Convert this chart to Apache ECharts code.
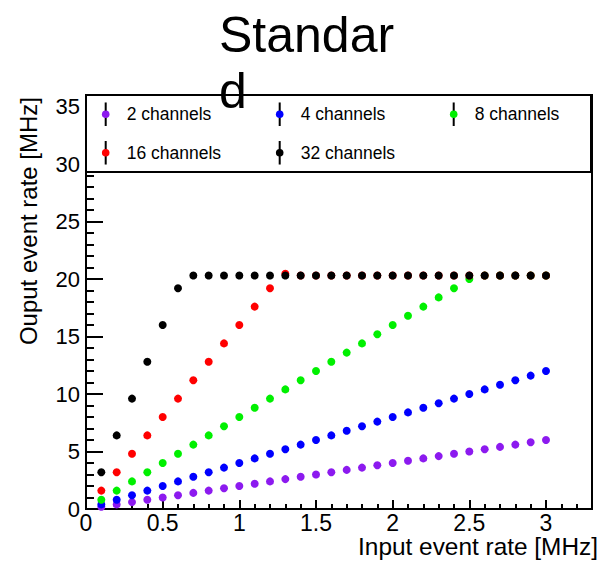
<!DOCTYPE html>
<html>
<head>
<meta charset="utf-8">
<title>Standard</title>
<script src="https://cdn.jsdelivr.net/npm/echarts@6/dist/echarts.min.js"></script>
<style>
  html, body { margin: 0; padding: 0; background: #fff; }
  #chart { width: 601px; height: 562px; }
</style>
</head>
<body>
<div id="chart"></div>
<script>
// Input event rate [MHz]
const rates = [0.1, 0.2, 0.3, 0.4, 0.5, 0.6, 0.7, 0.8, 0.9, 1.0,
               1.1, 1.2, 1.3, 1.4, 1.5, 1.6, 1.7, 1.8, 1.9, 2.0,
               2.1, 2.2, 2.3, 2.4, 2.5, 2.6, 2.7, 2.8, 2.9, 3.0];

// Output event rate [MHz] per channel count
const ch2  = [0.2, 0.4, 0.6, 0.8, 1.0, 1.2, 1.4, 1.6, 1.8, 2.0,
              2.2, 2.4, 2.6, 2.8, 3.0, 3.2, 3.4, 3.6, 3.8, 4.0,
              4.2, 4.4, 4.6, 4.8, 5.0, 5.2, 5.4, 5.6, 5.8, 6.0];
const ch4  = [0.4, 0.8, 1.2, 1.6, 2.0, 2.4, 2.8, 3.2, 3.6, 4.0,
              4.4, 4.8, 5.2, 5.6, 6.0, 6.4, 6.8, 7.2, 7.6, 8.0,
              8.4, 8.8, 9.2, 9.6, 10.0, 10.4, 10.8, 11.2, 11.6, 12.0];
const ch8  = [0.8, 1.6, 2.4, 3.2, 4.0, 4.8, 5.6, 6.4, 7.2, 8.0,
              8.8, 9.6, 10.4, 11.2, 12.0, 12.8, 13.6, 14.4, 15.2, 16.0,
              16.8, 17.6, 18.4, 19.2, 20.0, 20.3, 20.3, 20.3, 20.3, 20.3];
const ch16 = [1.6, 3.2, 4.8, 6.4, 8.0, 9.6, 11.2, 12.8, 14.4, 16.0,
              17.6, 19.2, 20.45, 20.3, 20.3, 20.3, 20.3, 20.3, 20.3, 20.3,
              20.3, 20.3, 20.3, 20.3, 20.3, 20.3, 20.3, 20.3, 20.3, 20.3];
const ch32 = [3.2, 6.4, 9.6, 12.8, 16.0, 19.2, 20.3, 20.3, 20.3, 20.3,
              20.3, 20.3, 20.3, 20.3, 20.3, 20.3, 20.3, 20.3, 20.3, 20.3,
              20.3, 20.3, 20.3, 20.3, 20.3, 20.3, 20.3, 20.3, 20.3, 20.3];

const seriesNames = ['2 channels', '4 channels', '8 channels', '16 channels', '32 channels'];
const seriesValues = [ch2, ch4, ch8, ch16, ch32];
const seriesColors = ['#8c1aef', '#0000ff', '#00f000', '#ff0000', '#000000'];

const FONT = 'Liberation Sans, Arial, Helvetica, sans-serif';

// Legend marker: coloured dot on a black vertical error bar
function markerIcon(color) {
  const svg = '<svg xmlns="http://www.w3.org/2000/svg" width="8" height="24" viewBox="0 0 8 24">' +
    '<rect x="3" y="0" width="2" height="24" fill="#000"/>' +
    '<circle cx="4" cy="12" r="3.8" fill="' + color + '"/></svg>';
  return 'image://data:image/svg+xml;charset=utf-8,' + encodeURIComponent(svg);
}

const chart = echarts.init(document.getElementById('chart'), null, { renderer: 'svg' });

const axisLineStyle = { color: '#000', width: 2 };

const option = {
  animation: false,
  backgroundColor: '#fff',
  textStyle: { fontFamily: FONT },
  title: {
    text: 'Standard',
    left: 219,
    top: 7,
    padding: 0,
    z: 30,
    textStyle: {
      fontFamily: FONT,
      fontSize: 50,
      fontWeight: 'normal',
      color: '#000',
      width: 185,
      overflow: 'breakAll',
      lineHeight: 56
    }
  },
  grid: {
    left: 86, right: 9, top: 95, bottom: 53,
    show: true,
    borderColor: '#000',
    borderWidth: 2,
    backgroundColor: 'transparent'
  },
  legend: {
    data: seriesNames.map((n, i) => ({ name: n, icon: markerIcon(seriesColors[i]) })),
    left: 89.7,
    top: 102.3,
    width: 520,
    padding: 0,
    itemWidth: 32,
    itemHeight: 24,
    itemGap: 14.4,
    selectedMode: false,
    z: 20,
    textStyle: {
      fontFamily: FONT,
      fontSize: 17.5,
      color: '#000',
      width: 122.6,
      lineHeight: 24
    }
  },
  xAxis: [
    {
      type: 'value',
      position: 'bottom',
      min: 0, max: 3.3, interval: 0.5,
      axisLine: { show: true, onZero: false, lineStyle: axisLineStyle },
      axisTick: { show: true, inside: true, length: 9, lineStyle: axisLineStyle },
      axisLabel: {
        show: true, margin: 2, showMaxLabel: false,
        fontFamily: FONT, fontSize: 23, color: '#000'
      },
      splitLine: { show: false }
    },
    {
      type: 'value',
      position: 'bottom',
      offset: 0,
      min: 0, max: 3.3, interval: 0.1,
      axisLine: { show: false },
      axisTick: { show: true, inside: true, length: 5, lineStyle: axisLineStyle },
      axisLabel: { show: false },
      splitLine: { show: false }
    }
  ],
  yAxis: [
    {
      type: 'value',
      position: 'left',
      min: 0, max: 36, interval: 5,
      axisLine: { show: true, onZero: false, lineStyle: axisLineStyle },
      axisTick: { show: true, inside: true, length: 17, lineStyle: axisLineStyle },
      axisLabel: {
        show: true, margin: 6, showMaxLabel: false,
        fontFamily: FONT, fontSize: 22, color: '#000'
      },
      splitLine: { show: false }
    },
    {
      type: 'value',
      position: 'left',
      offset: 0,
      min: 0, max: 36, interval: 1,
      axisLine: { show: false },
      axisTick: { show: true, inside: true, length: 8, lineStyle: axisLineStyle },
      axisLabel: { show: false },
      splitLine: { show: false }
    }
  ],
  graphic: [
    {
      // legend frame across the top of the plot
      type: 'rect',
      z: 10,
      shape: { x: 86, y: 95, width: 505, height: 77 },
      style: { fill: '#fff', stroke: '#000', lineWidth: 2 }
    },
    {
      type: 'text',
      z: 10,
      x: 598, y: 546.5,
      style: {
        text: 'Input event rate [MHz]',
        font: '24.4px ' + FONT,
        fill: '#000',
        align: 'right',
        verticalAlign: 'middle'
      }
    },
    {
      type: 'text',
      z: 10,
      x: 28, y: 97,
      rotation: Math.PI / 2,
      style: {
        text: 'Ouput event rate [MHz]',
        font: '24px ' + FONT,
        fill: '#000',
        align: 'right',
        verticalAlign: 'middle'
      }
    }
  ],
  series: seriesNames.map((name, i) => ({
    name: name,
    type: 'scatter',
    xAxisIndex: 0,
    yAxisIndex: 0,
    symbol: 'circle',
    symbolSize: 8,
    itemStyle: { color: seriesColors[i], opacity: 1 },
    z: 2 + i,
    data: rates.map((r, k) => [r, seriesValues[i][k]])
  }))
};

chart.setOption(option);
</script>
</body>
</html>
